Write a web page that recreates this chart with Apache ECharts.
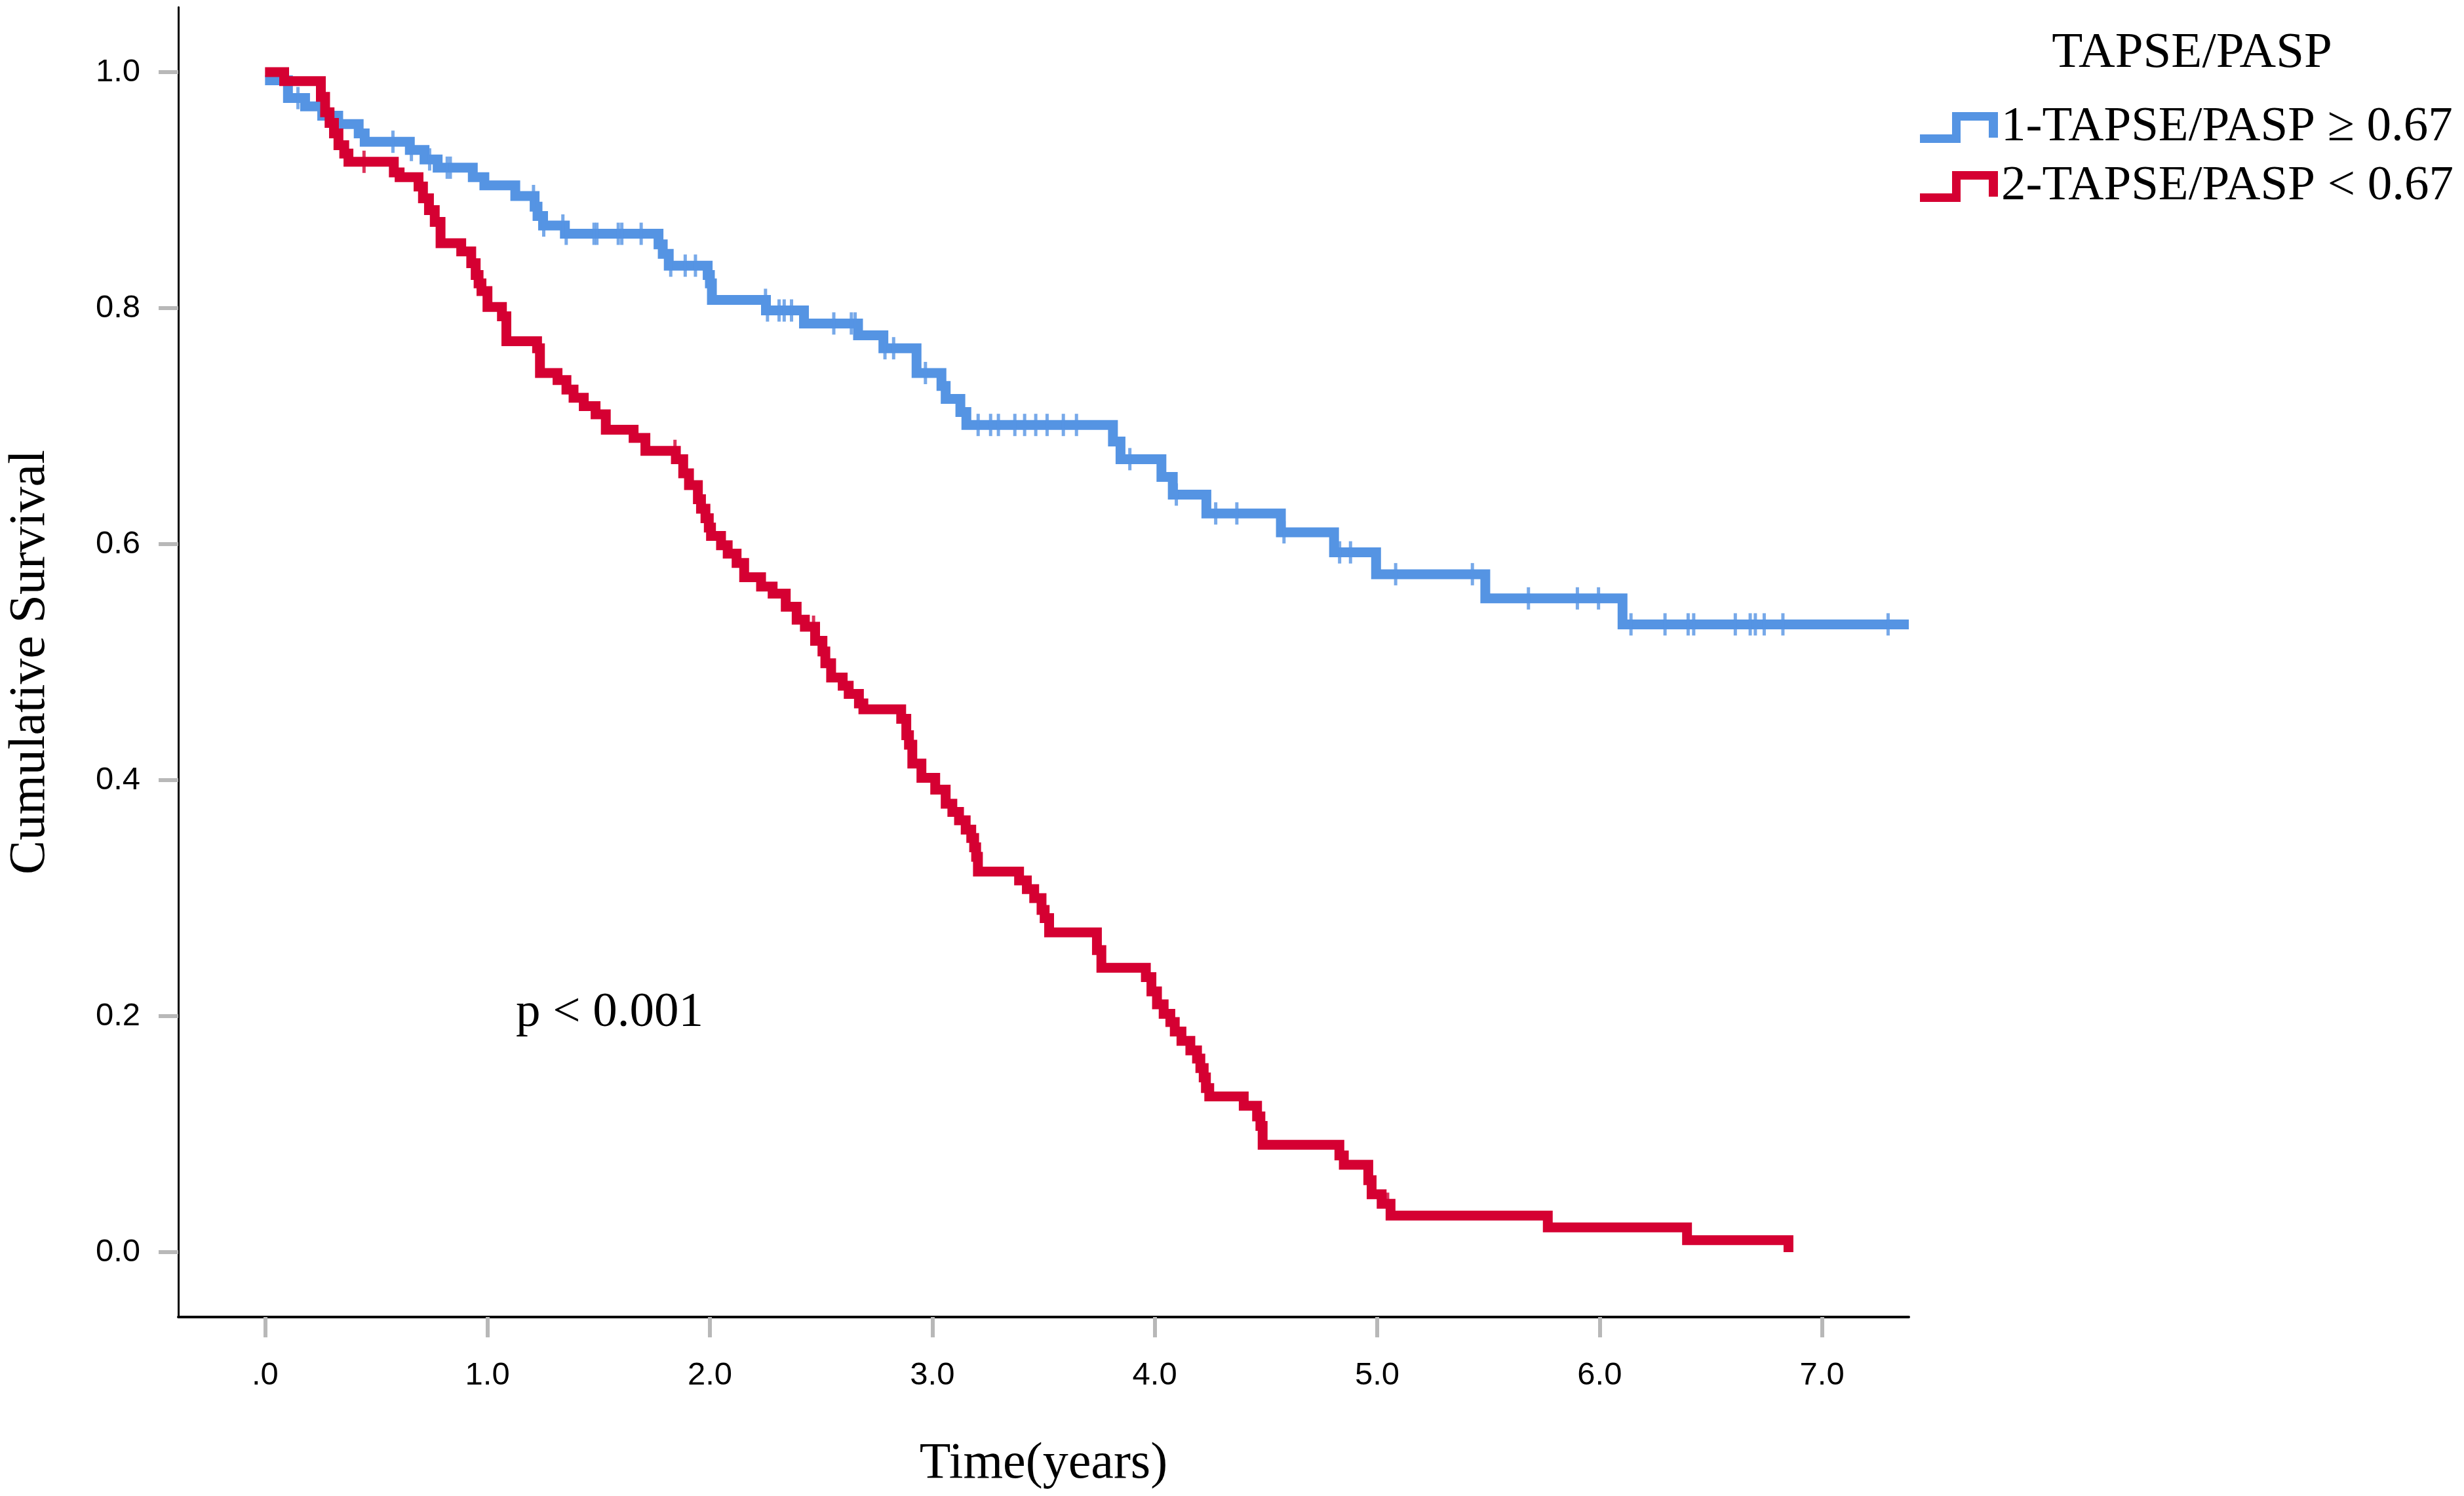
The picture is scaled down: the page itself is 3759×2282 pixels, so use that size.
<!DOCTYPE html>
<html>
<head>
<meta charset="utf-8">
<style>
  html, body { margin: 0; padding: 0; background: #fff; }
  #chart { width: 3759px; height: 2282px; }
</style>
<script src="https://cdn.jsdelivr.net/npm/echarts@6.0.0/dist/echarts.min.js"></script>
</head>
<body>
<div id="chart"></div>
<script>
// ---------- data ----------
const timeTicks = [0, 1, 2, 3, 4, 5, 6, 7];
const survTicks = [0, 0.2, 0.4, 0.6, 0.8, 1.0];

const group1Name = '1-TAPSE/PASP \u2265 0.67';
const group2Name = '2-TAPSE/PASP < 0.67';

// Group 1 (TAPSE/PASP >= 0.67): event times and survival after each event
const group1Time = [0, 0.103, 0.180, 0.257, 0.329, 0.421, 0.448, 0.651, 0.717, 0.776, 0.934, 0.986,
  1.125, 1.212, 1.225, 1.250, 1.348, 1.769, 1.788, 1.815, 1.990, 2.000, 2.009, 2.252, 2.423,
  2.666, 2.780, 2.929, 3.041, 3.060, 3.126, 3.153, 3.812, 3.846, 4.030, 4.081, 4.232, 4.567,
  4.806, 4.995, 5.486, 6.103, 7.39];
const group1Surv = [0.993, 0.978, 0.971, 0.963, 0.956, 0.948, 0.941, 0.934, 0.926, 0.919, 0.911, 0.904,
  0.895, 0.886, 0.878, 0.870, 0.863, 0.854, 0.846, 0.836, 0.828, 0.821, 0.807, 0.798, 0.787,
  0.777, 0.766, 0.745, 0.734, 0.723, 0.712, 0.701, 0.687, 0.672, 0.657, 0.642, 0.626, 0.610,
  0.593, 0.5745, 0.554, 0.532, 0.532];
const group1Censor = [0.148, 0.575, 0.658, 0.740, 0.819, 0.833, 1.207, 1.253, 1.339, 1.354, 1.479, 1.492,
  1.588, 1.604, 1.691, 1.824, 1.889, 1.935, 2.250, 2.259, 2.311, 2.334, 2.367, 2.557, 2.636, 2.653,
  2.787, 2.826, 2.969, 3.206, 3.262, 3.297, 3.371, 3.415, 3.465, 3.516, 3.589, 3.648, 3.888,
  4.097, 4.274, 4.369, 4.581, 4.831, 4.880, 5.083, 5.428, 5.680, 5.900, 5.995, 6.141, 6.294,
  6.398, 6.423, 6.610, 6.677, 6.700, 6.740, 6.824, 7.297];

// Group 2 (TAPSE/PASP < 0.67)
const group2Time = [0, 0.086, 0.251, 0.270, 0.290, 0.310, 0.330, 0.356, 0.375, 0.579, 0.605, 0.690,
  0.710, 0.737, 0.763, 0.789, 0.882, 0.927, 0.947, 0.960, 0.973, 1.000, 1.065, 1.085, 1.223,
  1.236, 1.315, 1.355, 1.387, 1.433, 1.486, 1.532, 1.657, 1.710, 1.847, 1.880, 1.906, 1.946,
  1.960, 1.980, 1.995, 2.005, 2.050, 2.080, 2.120, 2.154, 2.230, 2.282, 2.341, 2.390, 2.427,
  2.473, 2.506, 2.519, 2.545, 2.597, 2.624, 2.670, 2.690, 2.860, 2.883, 2.895, 2.910, 2.951,
  3.013, 3.060, 3.090, 3.120, 3.150, 3.175, 3.188, 3.197, 3.205, 3.390, 3.425, 3.458, 3.491,
  3.505, 3.525, 3.740, 3.760, 3.960, 3.985, 4.010, 4.040, 4.070, 4.090, 4.120, 4.160, 4.190,
  4.205, 4.220, 4.230, 4.245, 4.400, 4.460, 4.475, 4.485, 4.830, 4.850, 4.960, 4.975, 5.020,
  5.060, 5.767, 6.393, 6.849];
const group2Surv = [1.0, 0.9924, 0.979, 0.966, 0.957, 0.948, 0.938, 0.931, 0.924, 0.915, 0.911, 0.903,
  0.893, 0.883, 0.873, 0.855, 0.848, 0.838, 0.828, 0.821, 0.8145, 0.801, 0.793, 0.772, 0.766,
  0.745, 0.739, 0.731, 0.724, 0.717, 0.710, 0.697, 0.690, 0.679, 0.672, 0.660, 0.650, 0.638,
  0.630, 0.622, 0.614, 0.607, 0.599, 0.592, 0.584, 0.572, 0.564, 0.558, 0.547, 0.536, 0.530,
  0.518, 0.509, 0.499, 0.487, 0.480, 0.473, 0.465, 0.460, 0.452, 0.438, 0.430, 0.414, 0.402,
  0.392, 0.380, 0.373, 0.366, 0.358, 0.351, 0.343, 0.335, 0.3225, 0.315, 0.3076, 0.300, 0.290,
  0.283, 0.271, 0.256, 0.241, 0.233, 0.221, 0.210, 0.202, 0.195, 0.187, 0.179, 0.171, 0.164,
  0.156, 0.148, 0.139, 0.132, 0.124, 0.115, 0.107, 0.091, 0.082, 0.074, 0.061, 0.049, 0.041,
  0.031, 0.021, 0.0102, 0.0];
const group2Censor = [0.445, 1.843, 2.466, 5.047];

const pText = 'p < 0.001';
const legendTitle = 'TAPSE/PASP';

// ---------- helpers ----------
function pairs(ts, ss) { return ts.map((t, i) => [t, ss[i]]); }
function survAt(ts, ss, t) {
  let v = ss[0];
  for (let i = 0; i < ts.length; i++) { if (ts[i] <= t) v = ss[i]; else break; }
  return v;
}
function censorPoints(cs, ts, ss) { return cs.map(t => [t, survAt(ts, ss, t)]); }

const BLUE = '#5594E3';
const RED = '#D50032';
const SERIF = '"Liberation Serif", "Times New Roman", serif';
const SANS = '"Liberation Sans", Arial, sans-serif';

const chart = echarts.init(document.getElementById('chart'), null, { renderer: 'canvas' });

chart.setOption({
  animation: false,
  backgroundColor: '#ffffff',
  grid: { left: 269, right: 847, top: 11, bottom: 273, containLabel: false },
  xAxis: {
    type: 'value',
    min: -0.39,
    max: 7.39,
    name: 'Time(years)',
    nameLocation: 'middle',
    nameGap: 186,
    nameTextStyle: { fontFamily: SERIF, fontSize: 78, color: '#000' },
    axisLine: { show: true, onZero: false, lineStyle: { color: '#000', width: 4 } },
    axisTick: { show: true, length: 31, customValues: timeTicks, lineStyle: { color: '#b8b8b8', width: 6 } },
    axisLabel: {
      customValues: timeTicks,
      margin: 65,
      fontFamily: SANS, fontSize: 49, color: '#000',
      formatter: v => (v === 0 ? '.0' : v.toFixed(1))
    },
    splitLine: { show: false }
  },
  yAxis: {
    type: 'value',
    min: -0.055,
    max: 1.055,
    name: 'Cumulative Survival',
    nameLocation: 'middle',
    nameGap: 186,
    nameRotate: 90,
    nameTextStyle: { fontFamily: SERIF, fontSize: 78, color: '#000' },
    axisLine: { show: true, onZero: false, lineStyle: { color: '#000', width: 3 } },
    axisTick: { show: true, length: 30, customValues: survTicks, lineStyle: { color: '#b8b8b8', width: 6 } },
    axisLabel: {
      customValues: survTicks,
      margin: 58,
      fontFamily: SANS, fontSize: 49, color: '#000',
      formatter: v => v.toFixed(1)
    },
    splitLine: { show: false }
  },
  legend: {
    orient: 'vertical',
    left: 2924,
    top: 152,
    itemWidth: 119,
    itemHeight: 47,
    itemGap: 15,
    selectedMode: false,
    icon: 'path://M0 34L49 34L49 0L119 0L119 39L105 39L105 13L62 13L62 47L0 47Z',
    itemStyle: { borderWidth: 0 },
    textStyle: { fontFamily: SERIF, fontSize: 75, color: '#000' },
    data: [group1Name, group2Name]
  },
  graphic: [
    {
      type: 'text', x: 3344, y: 82,
      style: { text: legendTitle, font: '77px ' + SERIF, fill: '#000', align: 'center', verticalAlign: 'middle' }
    },
    {
      type: 'text', x: 787, y: 1545,
      style: { text: pText, font: '75px ' + SERIF, fill: '#000', align: 'left', verticalAlign: 'middle' }
    }
  ],
  series: [
    {
      name: group1Name,
      type: 'line',
      step: 'end',
      showSymbol: false,
      symbol: 'none',
      color: BLUE,
      lineStyle: { color: BLUE, width: 15, join: 'miter', cap: 'butt' },
      itemStyle: { color: BLUE },
      data: pairs(group1Time, group1Surv),
      z: 2
    },
    {
      name: group2Name,
      type: 'line',
      step: 'end',
      showSymbol: false,
      symbol: 'none',
      color: RED,
      lineStyle: { color: RED, width: 15, join: 'miter', cap: 'butt' },
      itemStyle: { color: RED },
      data: pairs(group2Time, group2Surv),
      z: 3
    },
    {
      name: 'Censored 1',
      type: 'scatter',
      symbol: 'rect',
      symbolSize: [5, 34],
      itemStyle: { color: BLUE },
      data: censorPoints(group1Censor, group1Time, group1Surv),
      z: 4
    },
    {
      name: 'Censored 2',
      type: 'scatter',
      symbol: 'rect',
      symbolSize: [5, 34],
      itemStyle: { color: RED },
      data: censorPoints(group2Censor, group2Time, group2Surv),
      z: 5
    }
  ]
});
</script>
</body>
</html>
